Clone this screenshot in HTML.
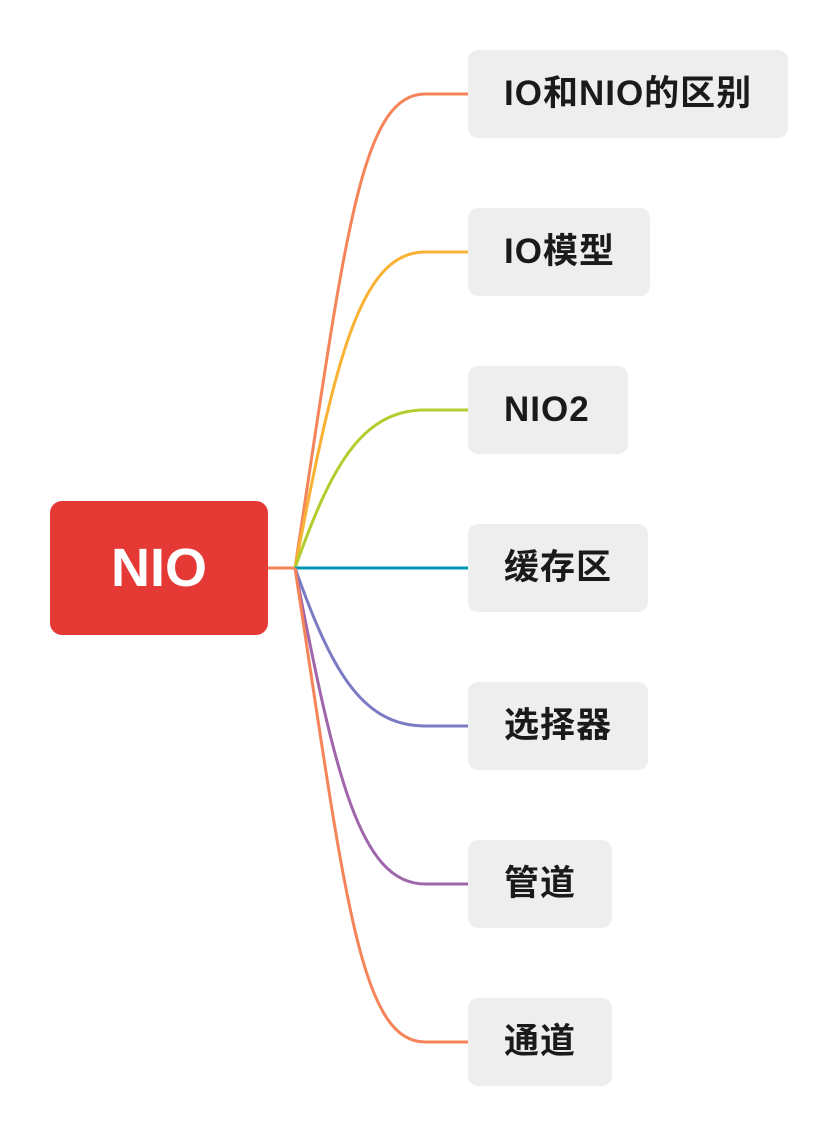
<!DOCTYPE html>
<html><head><meta charset="utf-8"><style>
html,body{margin:0;padding:0;background:#fff;width:838px;height:1136px;overflow:hidden;}
.n{position:absolute;left:468px;height:88px;background:#eeeeee;border-radius:10px;box-sizing:border-box;padding-left:36px;line-height:88px;font-family:"Liberation Sans","Noto Sans CJK SC",sans-serif;font-weight:bold;font-size:35px;letter-spacing:1px;color:#1a1a1a;}
.root{position:absolute;left:50px;top:501px;width:218px;height:134px;background:#e53935;border-radius:12px;color:#fff;font-family:"Liberation Sans",sans-serif;font-weight:bold;font-size:54px;text-align:center;line-height:134px;}
</style></head><body>
<svg width="838" height="1136" style="position:absolute;left:0;top:0" fill="none" stroke-width="3">
<line x1="268" y1="568" x2="296" y2="568" stroke="#f5845a"/>
<path d="M295 568 C345 240 360 94 425 94 L468 94" stroke="#f5845a"/>
<path d="M295 568 C335 360 360 252 425 252 L468 252" stroke="#f9b233"/>
<path d="M295 568 C330 470 360 410 425 410 L468 410" stroke="#b5cc2e"/>
<path d="M295 568 L468 568" stroke="#0099b3"/>
<path d="M295 568 C330 666 360 726 425 726 L468 726" stroke="#7b7bc4"/>
<path d="M295 568 C335 776 360 884 425 884 L468 884" stroke="#a066ab"/>
<path d="M295 568 C345 896 360 1042 425 1042 L468 1042" stroke="#f5845a"/>
</svg>
<div class="root">NIO</div>
<div class="n" style="top:50px;width:320px">IO和NIO的区别</div>
<div class="n" style="top:208px;width:182px">IO模型</div>
<div class="n" style="top:366px;width:160px">NIO2</div>
<div class="n" style="top:524px;width:180px">缓存区</div>
<div class="n" style="top:682px;width:180px">选择器</div>
<div class="n" style="top:840px;width:144px">管道</div>
<div class="n" style="top:998px;width:144px">通道</div>
</body></html>
